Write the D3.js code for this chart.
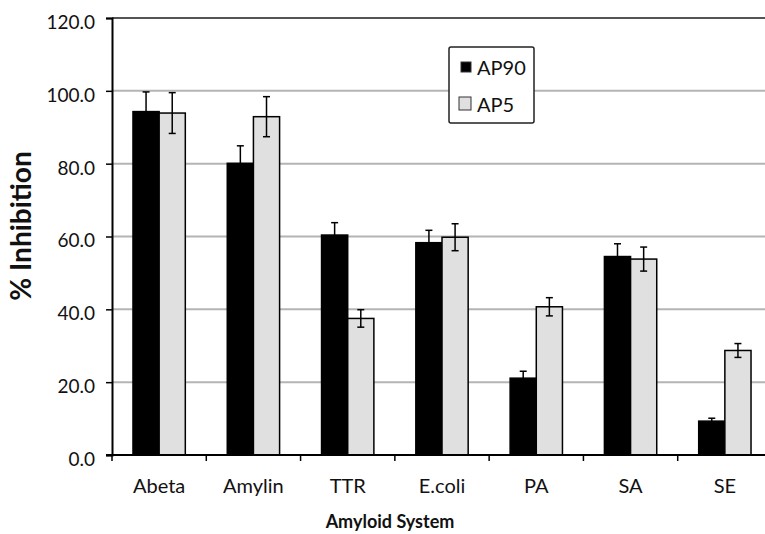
<!DOCTYPE html>
<html>
<head>
<meta charset="utf-8">
<script src="https://cdn.jsdelivr.net/npm/d3@7"></script>
<style>
  body { margin: 0; background: #fff; }
  svg { display: block; font-family: Lato, "Open Sans", sans-serif; }
</style>
</head>
<body>
<svg id="canvas" width="765" height="534"></svg>
<script>
// data
var categories = ['Abeta', 'Amylin', 'TTR', 'E.coli', 'PA', 'SA', 'SE'];
var seriesNames = ['AP90', 'AP5'];
var ap90 = [94.3, 80.1, 60.4, 58.3, 21.1, 54.5, 9.3];
var ap90Err = [5.4, 4.8, 3.4, 3.4, 1.9, 3.5, 0.8];
var ap5 = [93.9, 92.9, 37.5, 59.8, 40.7, 53.8, 28.7];
var ap5Err = [5.6, 5.5, 2.4, 3.7, 2.5, 3.3, 1.9];
var yTicks = [0, 20, 40, 60, 80, 100, 120];

var colors = { 'AP90': '#000000', 'AP5': '#e0e0e0' };

var svg = d3.select('#canvas');

// plot box (right side runs past the picture edge, like the cropped original)
var plot = { left: 112, right: 772, top: 18, bottom: 455 };

var x = d3.scaleBand()
  .domain(categories)
  .range([plot.left, plot.right])
  .paddingInner(0.445)
  .paddingOuter(0.2225);

var xs = d3.scaleBand()
  .domain(seriesNames)
  .range([0, x.bandwidth()]);

var y = d3.scaleLinear()
  .domain([0, 120])
  .range([plot.bottom, plot.top]);

// grid lines
svg.append('g')
  .selectAll('line')
  .data(yTicks.filter(function(d){ return d > 0 && d < 120; }))
  .join('line')
  .attr('x1', plot.left)
  .attr('x2', 765)
  .attr('y1', function(d){ return y(d); })
  .attr('y2', function(d){ return y(d); })
  .style('stroke', '#b4b4b4')
  .style('stroke-width', 2);

// top line at 120
svg.append('line')
  .attr('x1', plot.left).attr('x2', 765)
  .attr('y1', y(120)).attr('y2', y(120))
  .style('stroke', '#555').style('stroke-width', 2);

// rows of bars
var rows = categories.map(function(c, i){
  return [
    { cat: c, key: 'AP90', v: ap90[i], e: ap90Err[i] },
    { cat: c, key: 'AP5', v: ap5[i], e: ap5Err[i] }
  ];
});

var groups = svg.append('g')
  .selectAll('g')
  .data(rows)
  .join('g')
  .attr('transform', function(d){ return 'translate(' + x(d[0].cat) + ',0)'; });

groups.selectAll('rect')
  .data(function(d){ return d; })
  .join('rect')
  .attr('x', function(d){ return xs(d.key); })
  .attr('y', function(d){ return y(d.v); })
  .attr('width', xs.bandwidth())
  .attr('height', function(d){ return y(0) - y(d.v); })
  .style('fill', function(d){ return colors[d.key]; })
  .style('stroke', '#000')
  .style('stroke-width', 1.5);

// error bars
var err = groups.selectAll('g.err')
  .data(function(d){ return d; })
  .join('g')
  .attr('class', 'err')
  .style('stroke', '#000')
  .style('stroke-width', 1.5);

err.append('line')
  .attr('x1', function(d){ return xs(d.key) + xs.bandwidth() / 2; })
  .attr('x2', function(d){ return xs(d.key) + xs.bandwidth() / 2; })
  .attr('y1', function(d){ return y(d.v + d.e); })
  .attr('y2', function(d){ return y(d.v - d.e); });

[1, -1].forEach(function(s){
  err.append('line')
    .attr('x1', function(d){ return xs(d.key) + xs.bandwidth() / 2 - 3.5; })
    .attr('x2', function(d){ return xs(d.key) + xs.bandwidth() / 2 + 3.5; })
    .attr('y1', function(d){ return y(d.v + s * d.e); })
    .attr('y2', function(d){ return y(d.v + s * d.e); });
});

// y axis
var yAxis = svg.append('g')
  .attr('transform', 'translate(' + plot.left + ',0)')
  .call(d3.axisLeft(y).tickValues(yTicks).tickFormat(d3.format('.1f')).tickSize(6).tickPadding(11));
yAxis.select('.domain').style('stroke', '#000').style('stroke-width', 2);
yAxis.selectAll('.tick line').style('stroke', '#000').style('stroke-width', 1.5);
yAxis.selectAll('text')
  .attr('dy', '0.55em')
  .style('font-family', 'Lato, sans-serif')
  .style('font-size', '19px')
  .style('fill', '#111');

// x axis
var xAxis = svg.append('g')
  .attr('transform', 'translate(0,' + plot.bottom + ')')
  .call(d3.axisBottom(x).tickSize(0).tickPadding(24));
xAxis.select('.domain').remove();
xAxis.selectAll('text')
  .style('font-family', 'Lato, sans-serif')
  .style('font-size', '20px')
  .style('fill', '#111');

svg.append('line')
  .attr('x1', plot.left - 6).attr('x2', 765)
  .attr('y1', plot.bottom).attr('y2', plot.bottom)
  .style('stroke', '#000').style('stroke-width', 2);

// tick marks between categories
var boundaries = categories.map(function(c){ return x(c) - x.step() * x.paddingInner() / 2; });
svg.append('g')
  .selectAll('line')
  .data(boundaries)
  .join('line')
  .attr('x1', function(d){ return d; })
  .attr('x2', function(d){ return d; })
  .attr('y1', plot.bottom)
  .attr('y2', plot.bottom + 6)
  .style('stroke', '#000')
  .style('stroke-width', 1.5);

// axis titles
svg.append('text')
  .attr('transform', 'translate(31,226) rotate(-90)')
  .attr('text-anchor', 'middle')
  .style('font-weight', 'bold')
  .style('font-size', '28px')
  .style('fill', '#111')
  .text('% Inhibition');

svg.append('text')
  .attr('x', 390)
  .attr('y', 528)
  .attr('text-anchor', 'middle')
  .style('font-weight', 'bold')
  .style('font-size', '18px')
  .style('fill', '#111')
  .text('Amyloid System');

// legend
var legend = svg.append('g').attr('transform', 'translate(449,47)');
legend.append('rect')
  .attr('width', 85).attr('height', 76).attr('rx', 2)
  .style('fill', '#fff').style('stroke', '#222').style('stroke-width', 1.5);

var items = legend.selectAll('g.item')
  .data(seriesNames)
  .join('g')
  .attr('class', 'item')
  .attr('transform', function(d, i){ return 'translate(12,' + (15 + i * 37) + ')'; });

items.append('rect')
  .attr('x', function(d, i){ return i ? -2 : 0; })
  .attr('y', function(d, i){ return i ? -2 : 0; })
  .attr('width', function(d, i){ return i ? 12 : 10; })
  .attr('height', function(d, i){ return i ? 13 : 10; })
  .style('fill', function(d){ return colors[d]; })
  .style('stroke', '#333').style('stroke-width', 1);

items.append('text')
  .attr('x', 16).attr('y', 13)
  .style('font-size', '20px')
  .style('fill', '#111')
  .text(function(d){ return d; });
</script>
</body>
</html>
